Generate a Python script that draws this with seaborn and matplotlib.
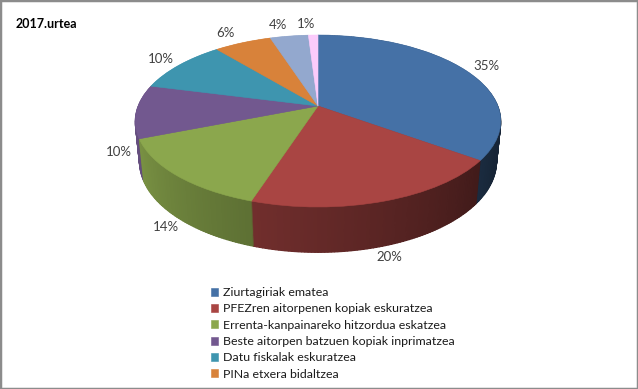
import numpy as np
import matplotlib
matplotlib.use("Agg")
import matplotlib.pyplot as plt
import matplotlib.colors as mcolors
from matplotlib.patches import Rectangle
from matplotlib.transforms import Transform
import seaborn as sns

# ---------------- data ----------------
title = "2017.urtea"
categories = [
    "Ziurtagiriak ematea",
    "PFEZren aitorpenen kopiak eskuratzea",
    "Errenta-kanpainareko hitzordua eskatzea",
    "Beste aitorpen batzuen kopiak inprimatzea",
    "Datu fiskalak eskuratzea",
    "PINa etxera bidaltzea",
]
values = [35, 20, 14, 10, 10, 6, 4, 1]
colors = ["#4571A6", "#A94543", "#8BA74D", "#72588F", "#3E95AF",
          "#D8823A", "#93A8CE", "#FBCBFB"]

# ---------------- style ----------------
sns.set_theme(style="white")
plt.rcParams['font.family'] = ['Lato', 'DejaVu Sans']

W, H = 638, 389
fig = plt.figure(figsize=(W / 100, H / 100), dpi=100)
ax = fig.add_axes([0, 0, 1, 1])

# perspective camera for the tilted pie (Excel-like 3D pie)
SIN_A, COS_A = 0.4632, 0.8863
FOCAL, DIST = 914.6, 5.082
X0, Y0 = 318, H - 106          # apex of the pie in pixel space
THICK = 0.256                  # thickness of the pie (in radius units)


class Persp(Transform):
    input_dims = output_dims = 2
    is_separable = False
    has_inverse = False

    def __init__(self, h):
        super().__init__()
        self.h = h

    def transform_non_affine(self, xy):
        xy = np.asarray(xy, dtype=float).reshape(-1, 2)
        u, v = xy[:, 0], xy[:, 1]
        zc = DIST + v * COS_A + self.h * SIN_A
        xs = FOCAL * u / zc
        ys = FOCAL * (v * SIN_A - self.h * COS_A) / zc
        return np.column_stack([X0 + xs, Y0 + ys])


N_LAYERS = 48
SUB = 4           # sub-wedges per percent for the shaded side wall
total = float(sum(values))

side_vals, side_cols = [], []
start = 90.0
for v, c in zip(values, colors):
    n = max(1, int(round(v * SUB)))
    rgb = np.array(mcolors.to_rgb(c))
    for k in range(n):
        side_vals.append(v / n)
        mid = start - 360.0 * (v / total) * (k + 0.5) / n
        b = np.clip(0.36 + 0.004 * (-30.0 - mid), 0.33, 0.95)
        side_cols.append(tuple(rgb * b))
    start -= 360.0 * v / total

for i in range(N_LAYERS, 0, -1):
    h = THICK * i / N_LAYERS
    ws, _ = ax.pie(side_vals, colors=side_cols, startangle=90,
                   counterclock=False, radius=1,
                   wedgeprops=dict(linewidth=0.9))
    tr = Persp(h) + ax.transData
    for w in ws:
        w.set_edgecolor(w.get_facecolor())
        w.set_transform(tr)

top, _ = ax.pie(values, colors=colors, startangle=90, counterclock=False,
                radius=1, wedgeprops=dict(linewidth=0.4))
tr_top = Persp(0.0) + ax.transData
for w in top:
    w.set_edgecolor(w.get_facecolor())
    w.set_transform(tr_top)

ax.set_aspect('auto')
ax.set_xlim(0, W)
ax.set_ylim(0, H)
ax.axis('off')

# percentage labels
cum = np.cumsum([0] + values)
mids = 90.0 - 360.0 * (cum[:-1] + cum[1:]) / 2.0 / total
for v, m in zip(values, mids):
    th = np.radians(m)
    cx, sy = np.cos(th), np.sin(th)
    h = THICK if sy < 0 else 0.0
    dx = 15.8 * cx - (5.0 if sy > 0.8 else 0.0)
    ax.annotate(f"{v}%", xy=(cx, sy), xycoords=Persp(h) + ax.transData,
                xytext=(dx, 7.9 * sy), textcoords='offset points',
                ha='center', va='center', fontsize=9.5, color='#404040')

# legend (only the first six entries are visible in the original)
fig.legend(handles=top[:6], labels=categories, loc='upper left',
           bbox_to_anchor=(211 / W, 1 - 287 / H), frameon=False,
           fontsize=8.9, handlelength=0.6, handleheight=0.6,
           handletextpad=0.35, labelspacing=0.43, borderpad=0,
           borderaxespad=0, labelcolor='#1a1a1a')

fig.text(16 / W, 1 - 24 / H, title, fontweight='bold', fontsize=9,
         va='center', ha='left', color='#000000')

fig.patches.append(Rectangle((0, 0), 1, 1, transform=fig.transFigure,
                             fill=False, edgecolor='#8c8c8c', linewidth=2.5))

fig.savefig('out.png', dpi=100)
